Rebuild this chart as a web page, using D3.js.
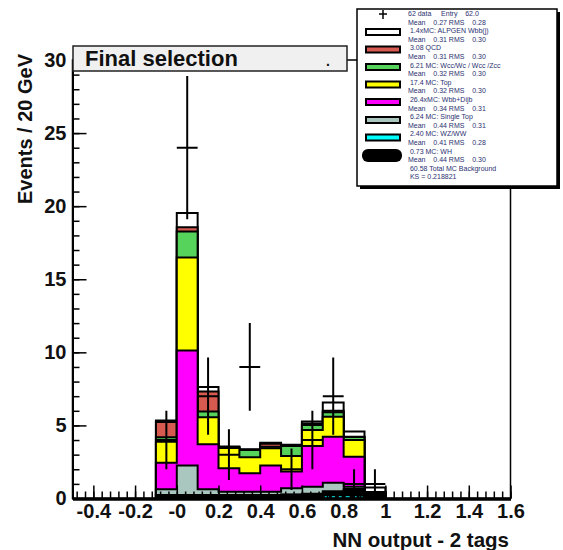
<!DOCTYPE html>
<html><head><meta charset="utf-8">
<script src="https://cdn.jsdelivr.net/npm/d3@7"></script>
<style>body{margin:0;background:#fff}</style>
</head><body>
<svg id="c" width="563" height="550"></svg>
<script>
// ---- data ----
const binLow = [-0.1, 0.0, 0.1, 0.2, 0.3, 0.4, 0.5, 0.6, 0.7, 0.8, 0.9];
const binWidth = 0.1;
// stacked components, bottom -> top
const wh     = [0.22, 0.22, 0.22, 0.22, 0.22, 0.22, 0.25, 0.30, 0.40, 0.55, 0.30];
const wzww   = [0.02, 0.02, 0.02, 0.02, 0.02, 0.02, 0.02, 0.02, 0.10, 0.10, 0.00];
const stop   = [0.39, 2.01, 0.39, 0.23, 0.23, 0.23, 0.43, 0.49, 0.58, 0.16, 0.05];
const wlight = [1.82, 7.87, 3.08, 1.60, 1.26, 1.78, 1.14, 2.79, 3.15, 2.05, 0.05];
const ttop   = [1.44, 6.37, 1.85, 1.38, 1.09, 1.19, 1.07, 1.09, 1.37, 1.14, 0.05];
const wcc    = [0.30, 1.78, 0.39, 0.05, 0.50, 0.10, 0.69, 0.34, 0.30, 0.20, 0.00];
const qcd    = [1.04, 0.28, 1.37, 0.02, 0.02, 0.20, 0.03, 0.10, 0.10, 0.03, 0.00];
const wbb    = [0.10, 0.98, 0.30, 0.03, 0.03, 0.08, 0.04, 0.13, 0.56, 0.35, 0.30];
const dataCounts = [4, 24, 7, 3, 9, 0, 2, 4, 7, 1, 1];

const seriesNames  = ["wh", "wzww", "stop", "wlight", "ttop", "wcc", "qcd", "wbb"];
const seriesValues = [wh, wzww, stop, wlight, ttop, wcc, qcd, wbb];
const seriesColors = ["#000000", "#00ffff", "#a9c6bf", "#ff00ff", "#ffff00", "#55d35a", "#d65a50", "#ffffff"];

const xMajor = [-0.4, -0.2, 0, 0.2, 0.4, 0.6, 0.8, 1.0, 1.2, 1.4, 1.6];
const xLabels = ["-0.4", "-0.2", "-0", "0.2", "0.4", "0.6", "0.8", "1", "1.2", "1.4", "1.6"];
const yMajor = [0, 5, 10, 15, 20, 25, 30];

const legendSwatchColors = ["#ffffff", "#d65a50", "#55d35a", "#ffff00", "#ff00ff", "#a9c6bf", "#00ffff"];
const legendLines = [
  "62 data     Entry    62.0",
  "Mean    0.27 RMS    0.28",
  " 1.4xMC: ALPGEN Wbb(j)",
  "Mean    0.31 RMS    0.30",
  " 3.08 QCD",
  "Mean    0.31 RMS    0.30",
  " 6.21 MC: Wcc/Wc / Wcc /Zcc",
  "Mean    0.32 RMS    0.30",
  " 17.4 MC: Top",
  "Mean    0.32 RMS    0.30",
  " 26.4xMC: Wbb+Dijb",
  "Mean    0.34 RMS    0.31",
  " 6.24 MC: Single Top",
  "Mean    0.44 RMS    0.31",
  " 2.40 MC: WZ/WW",
  "Mean    0.41 RMS    0.28",
  " 0.73 MC: WH",
  "Mean    0.44 RMS    0.30",
  " 60.58 Total MC Background",
  " KS = 0.218821"
];

// ---- layout ----
const svg = d3.select("#c");
const L = 72.5, R = 510.5, T = 60, B = 498.5;
const x = d3.scaleLinear().domain([-0.5, 1.6]).range([L, R]);
const y = d3.scaleLinear().domain([0, 30]).range([B, T]);
const FONT = "'Liberation Sans', Arial, Helvetica, sans-serif";

svg.append("defs").append("clipPath").attr("id", "clip")
  .append("rect").attr("x", L).attr("y", T).attr("width", R - L).attr("height", B - T);

// cumulative sums
const cum = [];
let run = binLow.map(() => 0);
seriesValues.forEach(s => { run = run.map((v, i) => v + s[i]); cum.push(run.slice()); });

const line = d3.line();
const g = svg.append("g").attr("clip-path", "url(#clip)");
for (let k = cum.length - 1; k >= 0; k--) {
  const c = cum[k];
  const pts = [[x(binLow[0]), y(0)]];
  binLow.forEach((lo, i) => { pts.push([x(lo), y(c[i])]); pts.push([x(lo + binWidth), y(c[i])]); });
  pts.push([x(binLow[binLow.length - 1] + binWidth), y(0)]);
  g.append("path").attr("d", line(pts) + "Z")
    .attr("fill", seriesColors[k]).attr("stroke", "#000").attr("stroke-width", 2)
    .attr("stroke-linejoin", "miter");
}
// cyan dashed trace of the WZ/WW layer
binLow.forEach((lo, i) => {
  if (wzww[i] >= 0.05) {
    g.append("line").attr("x1", x(lo) + 2).attr("x2", x(lo + binWidth) - 2)
      .attr("y1", y(0) - 1.5).attr("y2", y(0) - 1.5)
      .attr("stroke", "#00ffff").attr("stroke-width", 1.6).attr("stroke-dasharray", "4,3");
  }
});

// data points
const dg = svg.append("g").attr("clip-path", "url(#clip)");
binLow.forEach((lo, i) => {
  const n = dataCounts[i];
  if (n <= 0) return;
  const e = Math.sqrt(n), cx = x(lo + binWidth / 2);
  dg.append("line").attr("x1", cx).attr("x2", cx).attr("y1", y(n + e)).attr("y2", y(Math.max(0, n - e)))
    .attr("stroke", "#000").attr("stroke-width", 2);
  dg.append("line").attr("x1", x(lo)).attr("x2", x(lo + binWidth)).attr("y1", y(n)).attr("y2", y(n))
    .attr("stroke", "#000").attr("stroke-width", 2);
});

// frame
svg.append("rect").attr("x", L).attr("y", T).attr("width", R - L).attr("height", B - T)
  .attr("fill", "none").attr("stroke", "#000").attr("stroke-width", 1.5);

// axes
function styleAxis(sel) {
  sel.attr("font-family", FONT).attr("font-size", 20).attr("font-weight", "bold");
  sel.selectAll("line").attr("stroke", "#000").attr("stroke-width", 1.5);
  sel.selectAll("text").attr("fill", "#111");
}
const yMinor = d3.range(0, 30.01, 1);
svg.append("g").attr("transform", `translate(${L},0)`)
  .call(d3.axisLeft(y).tickValues(yMinor).tickSize(-7).tickSizeOuter(0).tickFormat(""))
  .call(styleAxis).select(".domain").attr("stroke-width", 2);
svg.append("g").attr("transform", `translate(${L},0)`)
  .call(d3.axisLeft(y).tickValues(yMajor).tickSize(-14).tickSizeOuter(0).tickPadding(6).tickFormat(d3.format("d")))
  .call(styleAxis).call(s => s.select(".domain").remove());

const xMinor = d3.range(-0.48, 1.601, 0.04);
svg.append("g").attr("transform", `translate(0,${B})`)
  .call(d3.axisBottom(x).tickValues(xMinor).tickSize(-7).tickSizeOuter(0).tickFormat(""))
  .call(styleAxis).select(".domain").attr("stroke-width", 3.5);
svg.append("g").attr("transform", `translate(0,${B})`)
  .call(d3.axisBottom(x).tickValues(xMajor).tickSize(-13).tickSizeOuter(0).tickPadding(5)
    .tickFormat((d, i) => xLabels[i]))
  .call(styleAxis).call(s => s.select(".domain").remove());

// axis titles
svg.append("text").attr("x", 509).attr("y", 547).attr("text-anchor", "end")
  .attr("font-family", FONT).attr("font-size", 20.5).attr("font-weight", "bold").attr("fill", "#111")
  .text("NN output - 2 tags");
svg.append("text").attr("transform", "translate(32,54) rotate(-90)").attr("text-anchor", "end")
  .attr("font-family", FONT).attr("font-size", 20).attr("font-weight", "bold").attr("fill", "#111")
  .text("Events / 20 GeV");

// title box
svg.append("rect").attr("x", 73).attr("y", 46).attr("width", 274).attr("height", 25)
  .attr("fill", "#f0f0f0").attr("stroke", "#222").attr("stroke-width", 1.5);
svg.append("text").attr("x", 85).attr("y", 66).attr("font-family", FONT).attr("font-size", 22)
  .attr("font-weight", "bold").attr("fill", "#111").text("Final selection");
svg.append("text").attr("x", 326).attr("y", 66).attr("font-family", FONT).attr("font-size", 14)
  .attr("font-weight", "bold").attr("fill", "#111").text(".");

// legend
const lg = svg.append("g");
lg.append("rect").attr("x", 360).attr("y", 12).attr("width", 200).attr("height", 177).attr("fill", "#000");
lg.append("rect").attr("x", 357).attr("y", 9).attr("width", 200).attr("height", 177)
  .attr("fill", "#fff").attr("stroke", "#000").attr("stroke-width", 1.5);
// data marker
lg.append("line").attr("x1", 383).attr("x2", 383).attr("y1", 10).attr("y2", 19).attr("stroke", "#000").attr("stroke-width", 1.5);
lg.append("line").attr("x1", 379).attr("x2", 387).attr("y1", 14).attr("y2", 14).attr("stroke", "#000").attr("stroke-width", 1.5);
const swY = [29, 46.5, 64, 81.5, 99, 117, 134.5];
legendSwatchColors.forEach((c, i) => {
  lg.append("rect").attr("x", 366).attr("y", swY[i]).attr("width", 34).attr("height", 6)
    .attr("fill", c).attr("stroke", "#000").attr("stroke-width", 2);
});
lg.append("rect").attr("x", 362).attr("y", 149).attr("width", 40).attr("height", 13).attr("rx", 6)
  .attr("fill", "#000");
legendLines.forEach((t, i) => {
  lg.append("text").attr("x", 408).attr("y", 16 + i * 8.6).attr("font-family", FONT).attr("font-size", 7)
    .attr("fill", "#2b3170").style("white-space", "pre").text(t);
});
</script>
</body></html>
